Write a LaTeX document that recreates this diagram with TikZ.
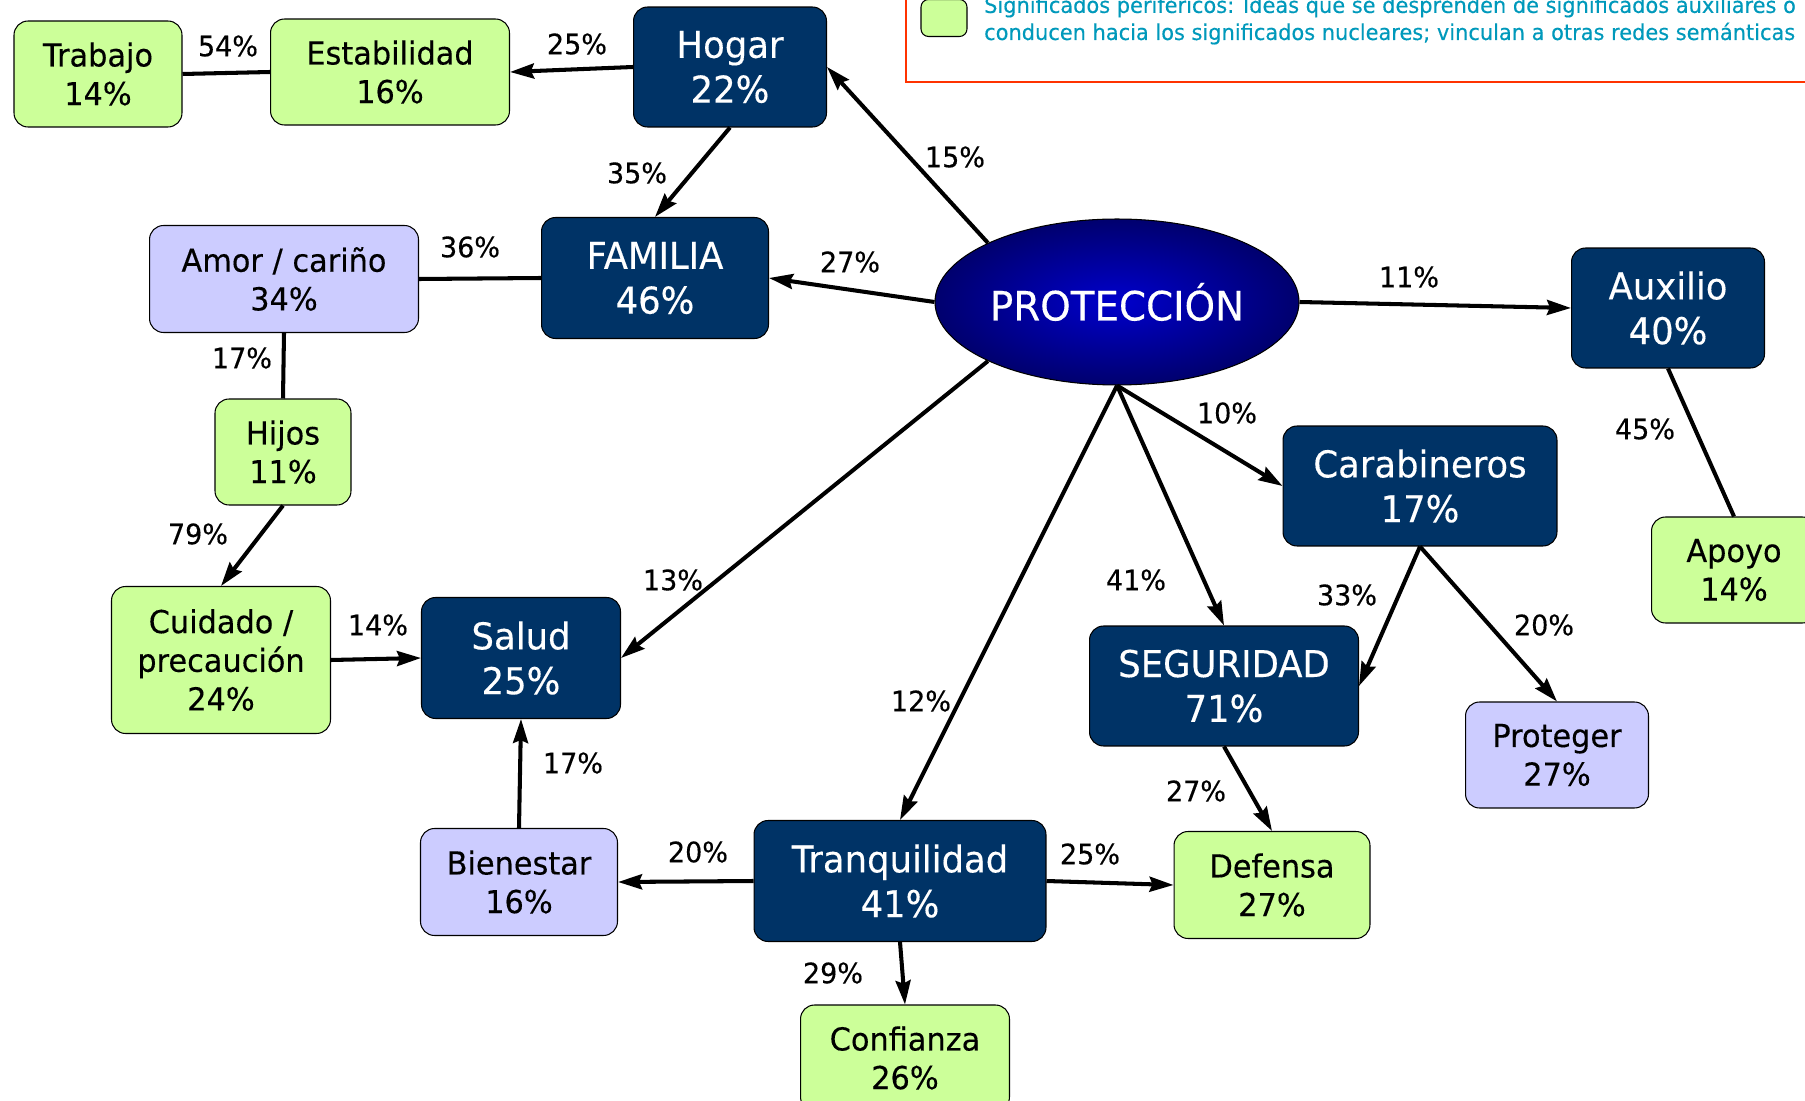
\documentclass[tikz,border=0pt]{standalone}
\usepackage{fontspec}
\setmainfont{DejaVu Sans}[FakeStretch=0.96,FakeBold=0.3]
\usetikzlibrary{arrows.meta,shapes.geometric,positioning,shadings}
\definecolor{nucblue}{RGB}{0,51,102}
\definecolor{perigreen}{RGB}{204,255,153}
\definecolor{auxlila}{RGB}{204,204,255}
\definecolor{legteal}{RGB}{0,153,187}
\definecolor{legred}{RGB}{255,51,0}
\tikzstyle{nuc} = [rectangle, rounded corners=2.8mm, draw=black, fill=nucblue, text=white, align=center, inner sep=0pt, line width=0.6pt, font=\fontsize{21}{25.5}\selectfont]
\tikzstyle{peri} = [rectangle, rounded corners=2.8mm, draw=black, fill=perigreen, align=center, inner sep=0pt, line width=0.6pt, font=\fontsize{18}{22}\selectfont]
\tikzstyle{aux} = [peri, fill=auxlila]
\tikzstyle{pct} = [font=\fontsize{16}{19}\selectfont]
\tikzstyle{arrow} = [line width=2.3pt, -{Stealth[length=4.8mm,width=3mm,inset=0.6mm]}]
\tikzstyle{link} = [line width=2.3pt]

\begin{document}
\begin{tikzpicture}[x=0.02cm,y=-0.02cm]
\useasboundingbox (0,0) rectangle (1805,1101);
% legend
\draw[legred, line width=1.2pt] (906,-20) rectangle (1830,82);
\node (legbox) [peri, rounded corners=1.5mm, minimum width=0.92cm, minimum height=0.74cm] at (944,18) {};
\node (legtxt) [anchor=west, align=left, text=legteal, font=\fontsize{12.4}{15.4}\selectfont] at (978,20) {Significados periféricos: Ideas que se desprenden de significados auxiliares o\\conducen hacia los significados nucleares; vinculan a otras redes semánticas};
% nodes
\node (prot) [ellipse, draw=black, line width=0.6pt, inner sep=0pt, inner color={rgb,255:red,0;green,0;blue,204}, outer color={rgb,255:red,0;green,0;blue,110}, minimum width=7.28cm, minimum height=3.32cm, text=white, font=\fontsize{23}{27}\selectfont] at (1117,302) {PROTECCIÓN};
\node (trab) [peri, minimum width=3.36cm, minimum height=2.12cm] at (98,74) {Trabajo\\14\%};
\node (estab) [peri, minimum width=4.78cm, minimum height=2.12cm] at (390,72) {Estabilidad\\16\%};
\node (hog) [nuc, minimum width=3.86cm, minimum height=2.4cm] at (730,67) {Hogar\\22\%};
\node (fam) [nuc, minimum width=4.54cm, minimum height=2.42cm] at (655,278) {FAMILIA\\46\%};
\node (amor) [aux, minimum width=5.38cm, minimum height=2.14cm] at (284,279) {Amor / cariño\\34\%};
\node (hijos) [peri, minimum width=2.72cm, minimum height=2.12cm] at (283,452) {Hijos\\11\%};
\node (cuid) [peri, minimum width=4.38cm, minimum height=2.94cm] at (221,660) {Cuidado /\\precaución\\24\%};
\node (salud) [nuc, minimum width=3.98cm, minimum height=2.42cm] at (521,658) {Salud\\25\%};
\node (bien) [aux, minimum width=3.94cm, minimum height=2.14cm] at (519,882) {Bienestar\\16\%};
\node (tranq) [nuc, minimum width=5.84cm, minimum height=2.42cm] at (900,881) {Tranquilidad\\41\%};
\node (conf) [peri, minimum width=4.18cm, minimum height=2.12cm] at (905,1058) {Confianza\\26\%};
\node (def) [peri, minimum width=3.92cm, minimum height=2.14cm] at (1272,885) {Defensa\\27\%};
\node (seg) [nuc, minimum width=5.38cm, minimum height=2.4cm] at (1224,686) {SEGURIDAD\\71\%};
\node (carab) [nuc, minimum width=5.48cm, minimum height=2.4cm] at (1420,486) {Carabineros\\17\%};
\node (proteg) [aux, minimum width=3.66cm, minimum height=2.12cm] at (1557,755) {Proteger\\27\%};
\node (auxi) [nuc, minimum width=3.86cm, minimum height=2.4cm] at (1668,308) {Auxilio\\40\%};
\node (apoyo) [peri, minimum width=3.3cm, minimum height=2.12cm] at (1734,570) {Apoyo\\14\%};
% connectors
\draw[link] (trab.east)--(estab.west);
\draw[arrow] (hog.west)--(estab.east);
\draw[arrow] (hog.south)--(fam.north);
\draw[arrow] (prot.north west)--(hog.east);
\draw[arrow] (prot.west)--(fam.east);
\draw[link] (fam.west)--(amor.east);
\draw[link] (amor.south)--(hijos.north);
\draw[arrow] (hijos.south)--(cuid.north);
\draw[arrow] (cuid.east)--(salud.west);
\draw[arrow] (prot.south west)--(salud.east);
\draw[arrow] (bien.north)--(salud.south);
\draw[arrow] (tranq.west)--(bien.east);
\draw[arrow] (prot.south)--(tranq.north);
\draw[arrow] (tranq.east)--(def.west);
\draw[arrow] (tranq.south)--(conf.north);
\draw[arrow] (prot.south)--(seg.north);
\draw[arrow] (prot.south)--(carab.west);
\draw[arrow] (prot.east)--(auxi.west);
\draw[link] (auxi.south)--(apoyo.north);
\draw[arrow] (carab.south)--(seg.east);
\draw[arrow] (carab.south)--(proteg.north);
\draw[arrow] (seg.south)--(def.north);
% percentages
\node (p54) [pct] at (228,46) {54\%};
\node (p25a) [pct] at (577,44) {25\%};
\node (p35) [pct] at (637,173) {35\%};
\node (p15) [pct] at (955,157) {15\%};
\node (p36) [pct] at (470,247) {36\%};
\node (p27a) [pct] at (850,262) {27\%};
\node (p11) [pct] at (1409,277) {11\%};
\node (p17a) [pct] at (242,358) {17\%};
\node (p10) [pct] at (1227,413) {10\%};
\node (p45) [pct] at (1645,429) {45\%};
\node (p79) [pct] at (198,534) {79\%};
\node (p13) [pct] at (673,580) {13\%};
\node (p41) [pct] at (1136,580) {41\%};
\node (p33) [pct] at (1347,595) {33\%};
\node (p20a) [pct] at (1544,625) {20\%};
\node (p14) [pct] at (378,625) {14\%};
\node (p12) [pct] at (921,701) {12\%};
\node (p17b) [pct] at (573,763) {17\%};
\node (p27b) [pct] at (1196,791) {27\%};
\node (p20b) [pct] at (698,852) {20\%};
\node (p25b) [pct] at (1090,854) {25\%};
\node (p29) [pct] at (833,973) {29\%};
\end{tikzpicture}
\end{document}
